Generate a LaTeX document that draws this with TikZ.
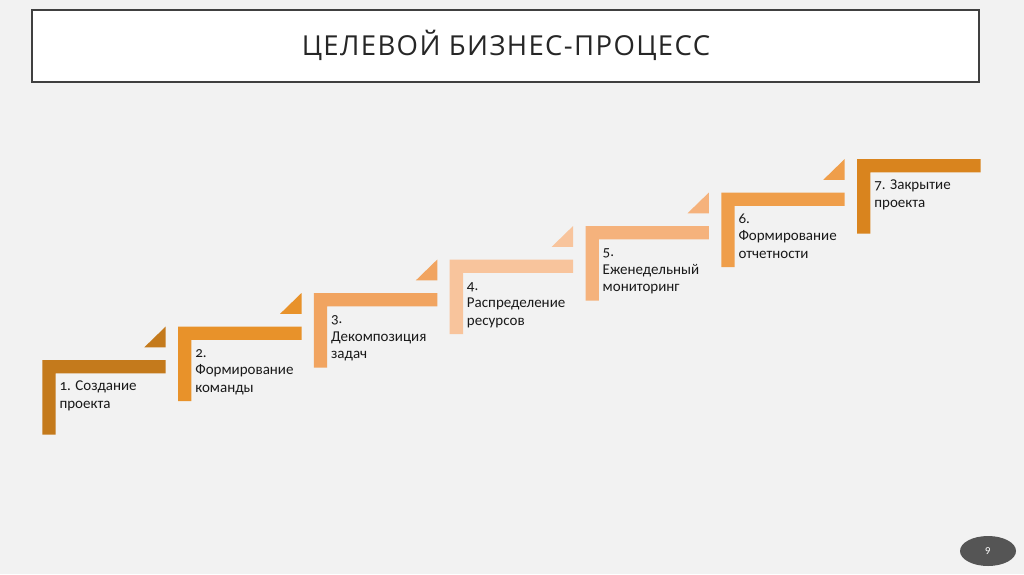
\documentclass[tikz,border=0pt]{standalone}
\usepackage{fontspec}
\setmainfont{Carlito}[Numbers=OldStyle]
\newfontfamily\titlefont{Open Sans}[LetterSpace=5]
\usetikzlibrary{shapes.geometric}
\definecolor{bgc}{HTML}{F2F2F2}
\definecolor{framec}{HTML}{404040}
\definecolor{sA}{HTML}{C47A1C}
\definecolor{sB}{HTML}{E8922A}
\definecolor{sC}{HTML}{F1A460}
\definecolor{sD}{HTML}{F8C49C}
\definecolor{sE}{HTML}{F5B27C}
\definecolor{sF}{HTML}{EF9E4A}
\definecolor{sG}{HTML}{D9841E}
\definecolor{numc}{HTML}{555555}
\tikzset{
  steplabel/.style={anchor=north west, inner sep=0pt, align=left, text=black!90,
    font=\fontsize{15}{17.5}\selectfont},
  titlebox/.style={draw=framec, line width=2.5pt, fill=white},
}
\newcommand{\stepshape}[4]{% x0, y0, color, triangle?
  \fill[#3] (#1,#2) -- ++(123.4,0) -- ++(0,13.3) -- ++(-110.1,0) -- ++(0,61.2) -- ++(-13.3,0) -- cycle;
  \ifnum#4=1
    \fill[#3] (#1+102,#2-12.7) -- (#1+123.4,#2-12.7) -- (#1+123.4,#2-33.5) -- cycle;
  \fi
}
\begin{document}
\begin{tikzpicture}[x=1pt,y=-1pt]
\fill[bgc] (0,0) rectangle (1024,574);
\useasboundingbox (0,0) rectangle (1024,574);
\draw[titlebox] (32,10) rectangle (979,82);
\node[font={\titlefont\fontsize{27.5}{30}\selectfont}, text=black!85] (title) at (506,45.5) {ЦЕЛЕВОЙ БИЗНЕС-ПРОЦЕСС};
\stepshape{42.3}{360}{sA}{1}
\stepshape{178.1}{326.5}{sB}{1}
\stepshape{313.9}{293}{sC}{1}
\stepshape{449.7}{259.5}{sD}{1}
\stepshape{585.5}{226}{sE}{1}
\stepshape{721.3}{192.5}{sF}{1}
\stepshape{857.1}{159}{sG}{0}
\node[steplabel] (l1) at (42.3+17,360+18.5) {\strut 1. Создание\\проекта};
\node[steplabel] (l2) at (178.1+17,326.5+18.5) {\strut 2.\\Формирование\\команды};
\node[steplabel] (l3) at (313.9+17,293+18.5) {\strut 3.\\Декомпозиция\\задач};
\node[steplabel] (l4) at (449.7+17,259.5+18.5) {\strut 4.\\Распределение\\ресурсов};
\node[steplabel] (l5) at (585.5+17,226+18.5) {\strut 5.\\Еженедельный\\мониторинг};
\node[steplabel] (l6) at (721.3+17,192.5+18.5) {\strut 6.\\Формирование\\отчетности};
\node[steplabel] (l7) at (857.1+17,159+18.5) {\strut 7. Закрытие\\проекта};
\node[ellipse, fill=numc, minimum width=56pt, minimum height=30pt, inner sep=0pt,
  text=white, font=\fontsize{11}{12}\selectfont] (pg) at (988,551) {9};
\end{tikzpicture}
\end{document}
